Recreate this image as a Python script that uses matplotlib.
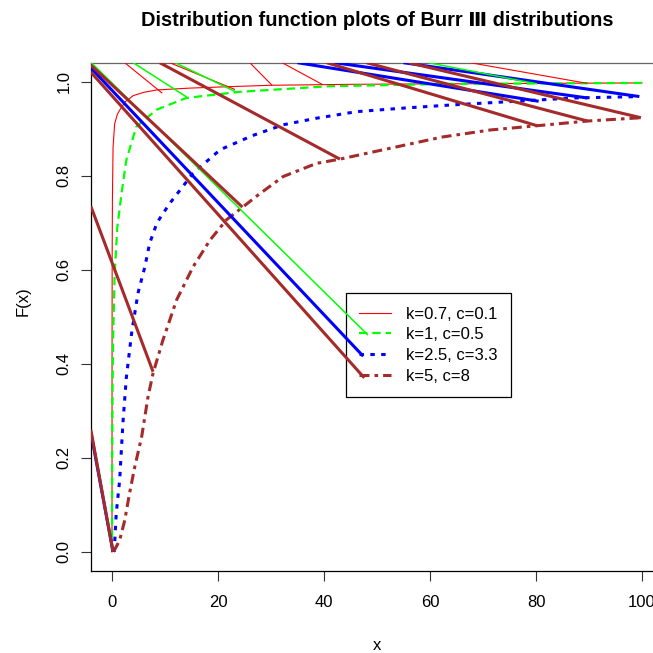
import matplotlib
matplotlib.use("Agg")
import matplotlib.pyplot as plt

plt.rcParams['font.family'] = ['Liberation Sans', 'DejaVu Sans']
plt.rcParams['lines.scale_dashes'] = False

# Curves F(x) read per parameter set
red_x = [0, 0.01, 0.03, 0.08, 0.2, 0.5, 1.0, 1.5, 2.5, 4, 6, 8.4, 14.7, 22, 30, 45, 60, 80, 100]
red_y = [0, 0.4, 0.62, 0.75, 0.86, 0.91, 0.93, 0.94, 0.957, 0.970, 0.977, 0.982,
         0.986, 0.989, 0.992, 0.994, 0.995, 0.996, 0.997]

green_x = [0, 0.03, 0.1, 0.2, 0.5, 1.0, 1.8, 2.7, 4.6, 8.4, 14, 24, 41, 64, 100]
green_y = [0, 0.2, 0.35, 0.45, 0.59, 0.69, 0.762, 0.833, 0.904, 0.94, 0.965, 0.978,
           0.99, 0.995, 0.997]

blue_x = [0.4, 0.5, 0.8, 1.45, 1.8, 2.1, 2.7, 3.7, 4.9, 6.2, 7.1, 8.5, 10.9, 15.3,
          20.4, 26.5, 32.3, 38.6, 46.2, 54.4, 63.8, 74.6, 87.1, 99.5]
blue_y = [0.0, 0.018, 0.082, 0.153, 0.223, 0.28, 0.37, 0.465, 0.55, 0.606, 0.656, 0.70,
          0.741, 0.805, 0.855, 0.885, 0.908, 0.922, 0.936, 0.943, 0.95, 0.957, 0.965, 0.968]

brown_x = [0.3, 1.45, 2.4, 3.3, 4.3, 5.6, 6.8, 7.75, 9.6, 12.2, 15.3, 18.5, 21.6, 27.6,
           32.3, 38.6, 43.0, 51.2, 62.3, 71.4, 80.2, 89.7, 99.8]
brown_y = [0.0, 0.025, 0.067, 0.124, 0.181, 0.245, 0.33, 0.38, 0.45, 0.536, 0.606, 0.663,
           0.706, 0.759, 0.798, 0.826, 0.835, 0.855, 0.882, 0.897, 0.906, 0.916, 0.923]

# stray straight segments (start -> end)
red_seg_start = [(2.4, 1.04), (10.9, 1.04), (26.0, 1.04), (32.1, 1.04), (67.6, 1.04)]
red_seg_end = [(9.5, 0.975), (23.2, 0.983), (30.2, 0.992), (39.8, 0.993), (89.7, 0.996)]

green_seg_start = [(-3.9, 1.04), (4.0, 1.04), (11.9, 1.04), (59.7, 1.04)]
green_seg_end = [(48.3, 0.461), (14.1, 0.967), (23.2, 0.979), (80.2, 0.995)]

blue_seg_start = [(-4.0, 1.029), (-4.0, 0.255), (35.0, 1.04), (42.0, 1.04), (55.0, 1.04)]
blue_seg_end = [(47.4, 0.416), (0.2, 0.0), (80.5, 0.958), (89.7, 0.965), (99.5, 0.968)]

brown_seg_start = [(-4.0, 0.26), (-4.0, 0.735), (-4.0, 1.035), (-4.0, 1.02), (9.0, 1.04),
                   (40.5, 1.04), (48.0, 1.04), (56.0, 1.04)]
brown_seg_end = [(0.2, 0.0), (7.75, 0.383), (24.6, 0.733), (47.6, 0.37), (43.0, 0.835),
                 (80.2, 0.906), (89.7, 0.916), (99.8, 0.923)]

labels = ["k=0.7, c=0.1", "k=1, c=0.5", "k=2.5, c=3.3", "k=5, c=8"]
RED, GREEN, BLUE, BROWN = "#FF0000", "#00FF00", "#0000FF", "#A52A2A"

W = H = 653
fig = plt.figure(figsize=(6.53, 6.53), dpi=100)
ax = fig.add_axes([90.8 / W, (H - 570.7) / H, (663.2 - 90.8) / W, 508 / H])

h_red, = ax.plot(red_x, red_y, color=RED, lw=0.8, solid_joinstyle='round')
h_green, = ax.plot(green_x, green_y, color=GREEN, lw=1.6, dashes=(6, 3.6))
h_blue, = ax.plot(blue_x, blue_y, color=BLUE, lw=2.2, dashes=(3.2, 4.6))
h_brown, = ax.plot(brown_x, brown_y, color=BROWN, lw=2.2, dashes=(7.2, 3.6, 2.6, 3.6))


def draw_segments(starts, ends, color, lw):
    for (x0, y0), (x1, y1) in zip(starts, ends):
        ax.plot([x0, x1], [y0, y1], color=color, lw=lw, zorder=4,
                solid_capstyle='butt')


draw_segments(blue_seg_start, blue_seg_end, BLUE, 2.2)
draw_segments(red_seg_start, red_seg_end, RED, 0.8)
draw_segments(green_seg_start, green_seg_end, GREEN, 1.1)
draw_segments(brown_seg_start, brown_seg_end, BROWN, 2.2)

ax.set_xlim(-4, 104)
ax.set_ylim(-0.04, 1.04)
ax.set_xticks([0, 20, 40, 60, 80, 100])
ax.set_yticks([0, 0.2, 0.4, 0.6, 0.8, 1.0])
ax.set_yticklabels(["0.0", "0.2", "0.4", "0.6", "0.8", "1.0"])
ax.tick_params(axis='both', length=7.2, width=0.8, direction='out', labelsize=12,
               color='#333333')
ax.tick_params(axis='x', pad=10)
ax.tick_params(axis='y', pad=6.5, labelrotation=90)
for t in ax.get_yticklabels():
    t.set_va('center')
for side in ['left', 'bottom', 'right']:
    ax.spines[side].set_linewidth(0.9)
    ax.spines[side].set_color('black')
ax.spines['top'].set_linewidth(0.9)
ax.spines['top'].set_color('#666666')

leg = ax.legend([h_red, h_green, h_blue, h_brown], labels, loc='upper left',
                bbox_to_anchor=(346 / W, 1 - 293.3 / H), bbox_transform=fig.transFigure,
                borderaxespad=0, fontsize=12, handlelength=1.92, handletextpad=0.87,
                borderpad=0.8, labelspacing=0.34, fancybox=False, framealpha=1,
                edgecolor='black')
leg.get_frame().set_linewidth(0.9)
leg.set_zorder(3)

fig.text(377 / W, 1 - 20 / H, "Distribution function plots of Burr \u2162 distributions",
         ha='center', va='center', fontsize=14.4, fontweight='bold')
fig.text(377 / W, 1 - 645 / H, "x", ha='center', va='center', fontsize=12)
fig.text(23 / W, 1 - 301 / H, "F(x)", ha='center', va='center', fontsize=12, rotation=90)

fig.savefig("out.png", dpi=100)
